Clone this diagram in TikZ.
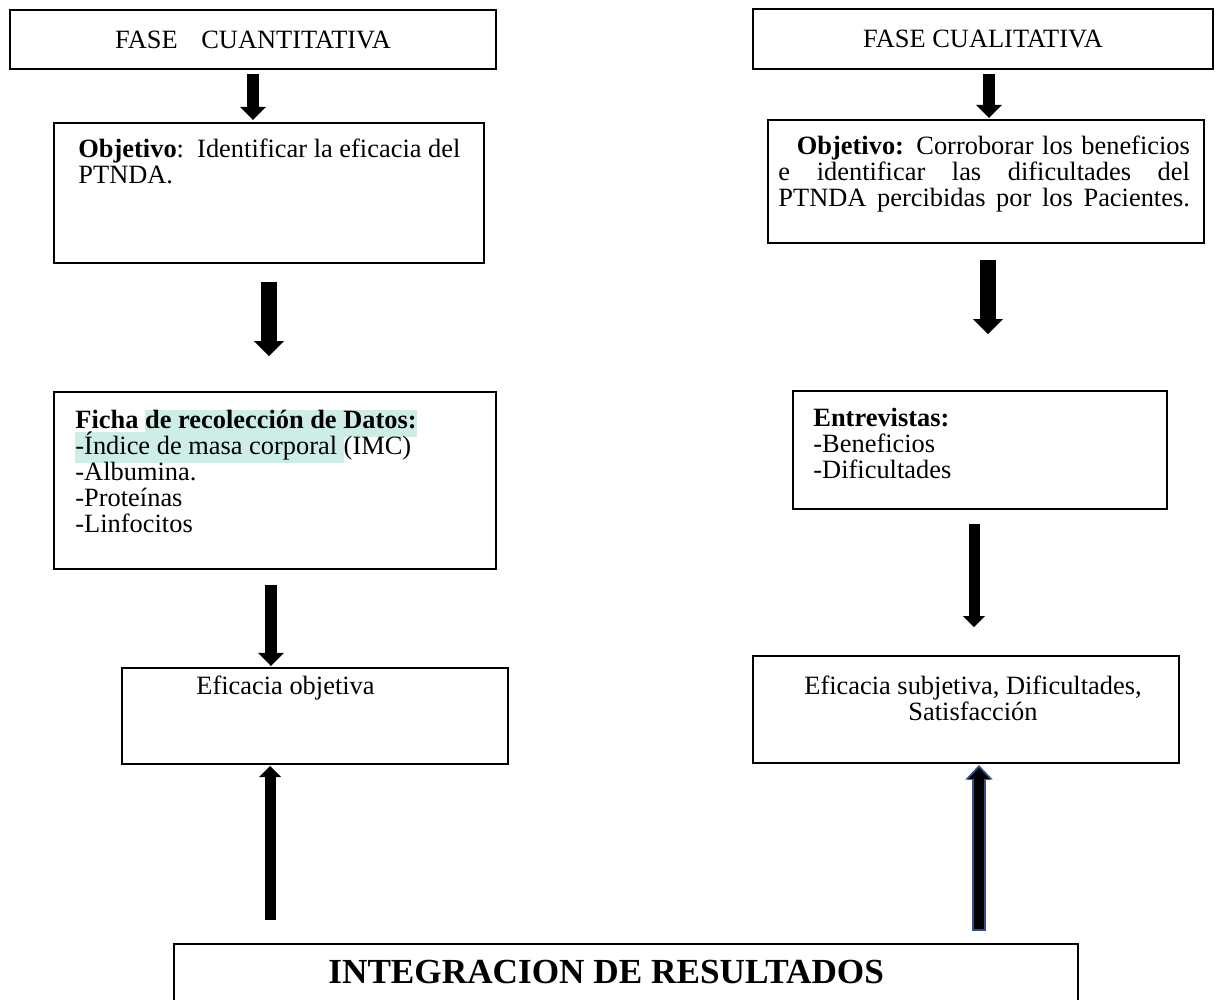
\documentclass[tikz,border=0pt]{standalone}
\usepackage{fontspec}
\setmainfont{Liberation Serif}
\usetikzlibrary{arrows.meta, calc}

\definecolor{hilite}{RGB}{204,238,230}
\definecolor{arrowblue}{RGB}{47,82,143}
\setlength{\lineskiplimit}{-20pt}
\newcommand{\pxu}{0.4545pt}
\newcommand{\hilit}[1]{{\setlength{\fboxsep}{0pt}\colorbox{hilite}{\strut#1}}}
\newcommand{\fullline}[1]{\makebox[187pt][s]{#1}}

\begin{document}
\begin{tikzpicture}[x=0.4545pt, y=-0.4545pt, font=\fontsize{12pt}{11.8pt}\selectfont,
  box/.style={draw, line width=0.9pt, anchor=north west, inner sep=0pt},
  txt/.style={anchor=north west, inner sep=0pt, align=left},
  blk/.style={line width=5.5pt, -{Triangle[width=11.8pt, length=6pt, line width=0pt]}},
  blkwide/.style={line width=7.3pt, -{Triangle[width=13.6pt, length=6.8pt, line width=0pt]}},
  blkthin/.style={line width=5pt, -{Triangle[width=10pt, length=5pt, line width=0pt]}},
  blkouter/.style={arrowblue, line width=6pt, -{Triangle[width=12.4pt, length=6.6pt, line width=0pt]}},
  blkinner/.style={line width=4.4pt, -{Triangle[width=10pt, length=5.2pt, line width=0pt]}, shorten <=0.8pt, shorten >=1.3pt},
]

\useasboundingbox (0,0) rectangle (1222,999);

% phase headers
\node[box, minimum width=486*\pxu, minimum height=59*\pxu] (fase1) at (9,9) {FASE\hspace{0.9em}CUANTITATIVA};
\node[box, minimum width=460*\pxu, minimum height=60*\pxu] (fase2) at (752,8) {FASE CUALITATIVA};

% objectives
\node[box, minimum width=430*\pxu, minimum height=140*\pxu] (obj1) at (53,122) {};
\node[txt] (obj1txt) at (78,138) {\strut\textbf{Objetivo}:\ \ Identificar la eficacia del\\PTNDA.};

\node[box, minimum width=436*\pxu, minimum height=123*\pxu] (obj2) at (767,119) {};
\node[txt, font=\fontsize{12pt}{12pt}\selectfont] (obj2txt) at (778,135)
  {\fullline{\strut\hspace{0.7em}\textbf{Objetivo:} Corroborar los beneficios}\\
   \fullline{e identificar las dificultades del}\\
   \fullline{PTNDA percibidas por los Pacientes.}};

% instruments
\node[box, minimum width=442*\pxu, minimum height=177*\pxu] (ficha) at (53,391) {};
\node[txt] (fichatxt) at (75,410)
  {\strut\textbf{Ficha \hilit{de recolección de Datos:}}\\
   \hilit{-Índice de masa corporal }(IMC)\\
   -Albumina.\\
   -Proteínas\\
   -Linfocitos};

\node[box, minimum width=374*\pxu, minimum height=118*\pxu] (entrev) at (792,390) {};
\node[txt] (entrevtxt) at (813,408)
  {\strut\textbf{Entrevistas:}\\-Beneficios\\-Dificultades};

% results of each phase
\node[box, minimum width=386*\pxu, minimum height=96*\pxu] (efobj) at (121,667) {};
\node[txt] (efobjtxt) at (196,675) {\strut Eficacia objetiva};

\node[box, minimum width=426*\pxu, minimum height=107*\pxu] (efsub) at (752,655) {};
\node[txt, anchor=north, align=center] (efsubtxt) at (973,675)
  {\strut Eficacia subjetiva, Dificultades,\\Satisfacción};

% integration
\node[box, minimum width=904*\pxu, minimum height=57*\pxu, font=\fontsize{16pt}{18pt}\selectfont\bfseries] (integ) at (173,943)
  {INTEGRACION DE RESULTADOS\kern18pt};

% arrows, quantitative side
\draw[blk] ($(fase1.south)+(0,4)$) -- ($(fase1.south |- obj1.north)+(0,-2)$);
\draw[blkwide] ($(obj1.south)+(0,18)$) -- ($(obj1.south |- ficha.north)+(0,-35)$);
\draw[blk] ($(ficha.south)+(-4,15)$) -- ($(ficha.south |- efobj.north)+(-4,-1)$);
\draw[blkthin] ($(integ.north west)+(97,-23)$) -- ($(integ.north west |- efobj.south)+(97,1)$);

% arrows, qualitative side
\draw[blk] ($(fase2.south)+(6,4)$) -- ($(fase2.south |- obj2.north)+(6,-1)$);
\draw[blkwide] ($(obj2.south)+(2,16)$) -- ($(obj2.south |- entrev.north)+(2,-56)$);
\draw[blkthin] ($(entrev.south)+(-6,14)$) -- ($(entrev.south |- efsub.north)+(-6,-28)$);
\draw[blkouter] ($(integ.north east)+(-100,-12)$) -- ($(integ.north east |- efsub.south)+(-100,1)$);
\draw[blkinner] ($(integ.north east)+(-100,-12)$) -- ($(integ.north east |- efsub.south)+(-100,1)$);

\end{tikzpicture}
\end{document}
